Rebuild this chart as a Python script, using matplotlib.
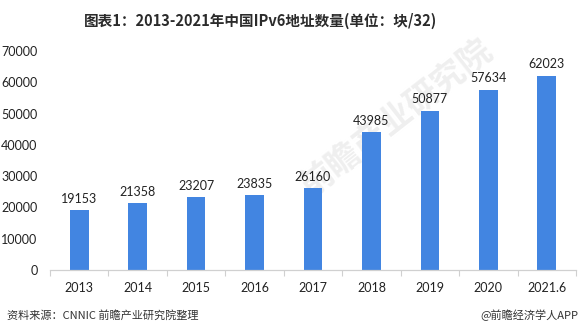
import matplotlib.pyplot as plt
import numpy as np
from matplotlib.ticker import FixedLocator

plt.rcParams["font.family"] = ["Lato", "Noto Sans CJK SC", "DejaVu Sans"]

years = ["2013", "2014", "2015", "2016", "2017", "2018", "2019", "2020", "2021.6"]
addresses = [19153, 21358, 23207, 23835, 26160, 43985, 50877, 57634, 62023]
y_ticks = [0, 10000, 20000, 30000, 40000, 50000, 60000, 70000]

title = "图表1：2013-2021年中国IPv6地址数量(单位：块/32)"
source = "资料来源：CNNIC 前瞻产业研究院整理"
brand = "@前瞻经济学人APP"

bar_color = "#4285E1"
text_color = "#222222"
cjk = ["Noto Sans CJK SC", "DejaVu Sans"]

fig = plt.figure(figsize=(5.83, 3.36), dpi=100)
ax = fig.add_axes([50 / 583, 66 / 336, 526 / 583, 219 / 336])
# keep the axes above the watermark
ax.set_zorder(1)
ax.patch.set_alpha(0)

x = np.arange(len(years))
bars = ax.bar(x, addresses, width=0.32, color=bar_color, zorder=2)

for rect, val in zip(bars, addresses):
    ax.annotate(str(val), (rect.get_x() + rect.get_width() / 2, val),
                xytext=(0, 4), textcoords="offset points",
                ha="center", va="bottom", fontsize=9, color=text_color)

ax.set_xlim(-0.5, len(years) - 0.5)
ax.set_ylim(0, 70000)
ax.set_yticks(y_ticks)
ax.set_yticklabels([str(t) for t in y_ticks])
ax.set_xticks(x)
ax.set_xticklabels(years)

# category separators drawn as short ticks under the baseline
ax.xaxis.set_minor_locator(FixedLocator(np.arange(-0.5, len(years), 1.0)))
ax.tick_params(axis="x", which="major", length=0, pad=9, labelsize=9, labelcolor=text_color)
ax.tick_params(axis="x", which="minor", length=4, width=0.8, color="#D0D0D0")
ax.tick_params(axis="y", length=0, pad=9, labelsize=9, labelcolor=text_color)

for side in ["top", "right", "left"]:
    ax.spines[side].set_visible(False)
ax.spines["bottom"].set_color("#D0D0D0")
ax.spines["bottom"].set_linewidth(0.9)

# faint diagonal watermark
fig.text(0.68, 0.65, "前瞻产业研究院", family=cjk, fontsize=24, fontweight="bold",
         color="#EFEFEF", rotation=38, ha="center", va="center", zorder=0)

fig.text(261 / 583, 1 - 21 / 336, title, family=cjk, fontsize=10.5, fontweight="bold",
         color="#2B2B2B", ha="center", va="center")
fig.text(7 / 583, 1 - 315 / 336, source, family=cjk, fontsize=8,
         color="#333333", ha="left", va="center")
fig.text(578 / 583, 1 - 315 / 336, brand, family=cjk, fontsize=8,
         color="#333333", ha="right", va="center")

fig.savefig("out.png", dpi=100)
